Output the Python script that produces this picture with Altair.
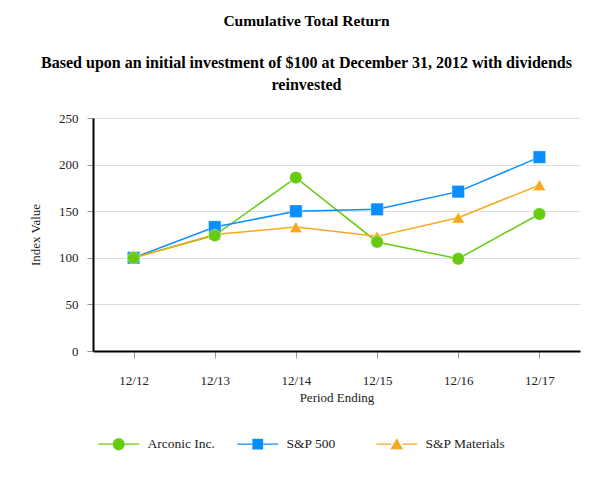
import altair as alt
import pandas as pd

periods = ["12/12", "12/13", "12/14", "12/15", "12/16", "12/17"]
series_names = ["Arconic Inc.", "S&P 500", "S&P Materials"]
arconic = [100, 124, 186, 117, 99, 147]
sp500 = [100, 133, 150, 152, 171, 208]
materials = [100, 125, 133, 123, 143, 178]
colors = ["#66cc11", "#0a8eff", "#f8a81d"]
shapes = ["circle", "square", "triangle-up"]
zorder = [3, 2, 1]

rows = []
for name, vals, z in zip(series_names, [arconic, sp500, materials], zorder):
    for p, v in zip(periods, vals):
        rows.append({"Period": p, "Series": name, "Value": v, "z": z})
df = pd.DataFrame(rows)

FONT = "Liberation Serif"

# legend symbols: marker with a short line through it (line drawn as thin filled bars)
bar_l = "M-3.4,-0.12H-0.95V0.12H-3.4Z"
bar_r = "M0.95,-0.12H3.4V0.12H0.95Z"
legend_shapes = [
    bar_l + bar_r + "M1,0A1,1 0 1,1 -1,0A1,1 0 1,1 1,0Z",
    bar_l + bar_r + "M-0.9,-0.9H0.9V0.9H-0.9Z",
    bar_l + bar_r + "M0,-1L1.05,0.85H-1.05Z",
]

color_scale = alt.Scale(domain=series_names, range=colors)
shape_scale = alt.Scale(domain=series_names, range=shapes)
legend_shape_scale = alt.Scale(domain=series_names, range=legend_shapes)

x = alt.X("Period:O", sort=periods,
          scale=alt.Scale(type="point", padding=0.5),
          axis=alt.Axis(title="Period Ending", labelAngle=0, tickSize=7,
                        labelPadding=16, titlePadding=4,
                        labelFont=FONT, titleFont=FONT))
y = alt.Y("Value:Q", scale=alt.Scale(domain=[0, 250], nice=False),
          axis=alt.Axis(title="Index Value", values=[0, 50, 100, 150, 200, 250],
                        tickSize=6, labelPadding=9, titlePadding=16,
                        labelFont=FONT, titleFont=FONT))

legend = alt.Legend(
    orient="none", legendX=19, legendY=319, direction="horizontal", title=None,
    columns=3, gridAlign="all",
    symbolSize=144, labelFont=FONT, labelFontSize=13.5, labelColor="#222",
    labelOffset=22, columnPadding=9, symbolStrokeWidth=0, symbolOpacity=1,
)

base = alt.Chart(df).encode(x=x, y=y)
lines = base.mark_line(strokeWidth=1.5).encode(
    color=alt.Color("Series:N", scale=color_scale, legend=None),
    detail="Series:N",
)
points = base.mark_point(filled=True, size=155, opacity=1, stroke="#ffffff",
                         strokeWidth=0.6, strokeOpacity=0.6).encode(
    color=alt.Color("Series:N", scale=color_scale, legend=None),
    shape=alt.Shape("Series:N", scale=shape_scale, legend=None),
    order=alt.Order("z:Q"),
)
legend_layer = base.mark_point(filled=True, opacity=1).encode(
    color=alt.Color("Series:N", scale=color_scale, legend=legend),
    shape=alt.Shape("Series:N", scale=legend_shape_scale, legend=legend),
).transform_filter("false")

chart = alt.layer(lines, points, legend_layer).resolve_scale(
    color="independent", shape="independent"
).properties(
    width=487, height=233,
    autosize=alt.AutoSizeParams(type="none"),
    padding={"left": 85, "top": 110, "right": 25, "bottom": 121},
    title=alt.TitleParams(
        text="Cumulative Total Return",
        subtitle=["Based upon an initial investment of $100 at December 31, 2012 with dividends",
                  "reinvested"],
        font=FONT, fontSize=15.5, fontWeight="bold", color="black",
        subtitleFont=FONT, subtitleFontSize=16, subtitleFontWeight="bold",
        subtitleColor="black", subtitlePadding=26, subtitleLineHeight=22,
        anchor="middle", dx=-30, offset=19,
    ),
).configure(font=FONT).configure_view(stroke=None).configure_axis(
    labelFont=FONT, titleFont=FONT, labelFontSize=13, titleFontSize=13,
    titleFontWeight="normal", labelColor="#222", titleColor="#222",
    gridColor="#dddddd", gridWidth=1, tickColor="#999999",
    domainColor="black", domainWidth=2,
)

chart.save("out.html", embed_options={"renderer": "svg", "actions": False})
